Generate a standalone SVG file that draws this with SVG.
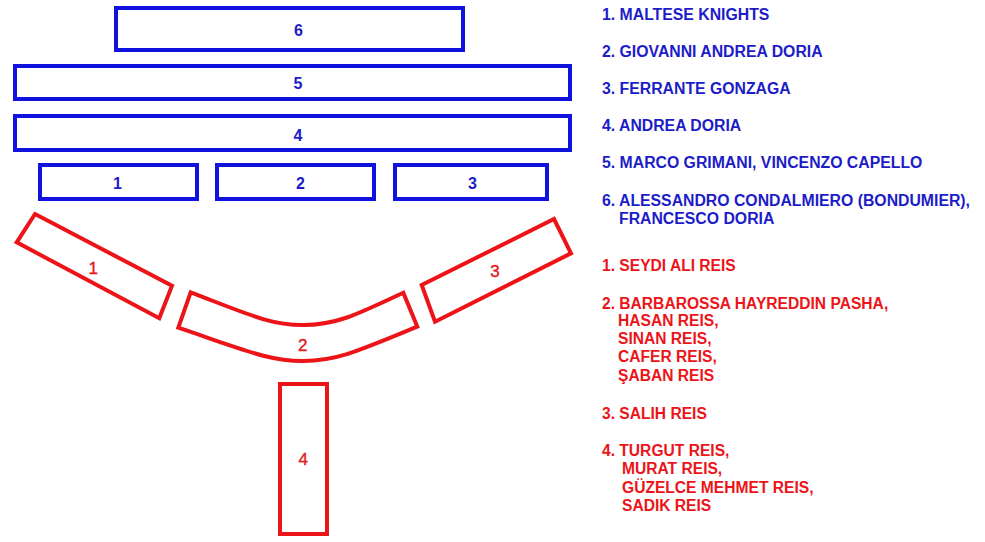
<svg xmlns="http://www.w3.org/2000/svg" width="985" height="542" viewBox="0 0 985 542">
<style>
.b{fill:none;stroke:#1212e0;stroke-width:4}
.r{fill:none;stroke:#ec1418;stroke-width:4;stroke-linejoin:miter}
.bn{font-family:"Liberation Sans",Arial,sans-serif;font-weight:bold;font-size:16px;fill:#1c1cc8;text-anchor:middle}
.rn{font-family:"Liberation Sans",Arial,sans-serif;font-size:17px;fill:#e41a1c;text-anchor:middle;stroke:#e41a1c;stroke-width:0.4}
.bl{font-family:"Liberation Sans",Arial,sans-serif;font-weight:bold;font-size:15.8px;fill:#1c1cc8}
.rl{font-family:"Liberation Sans",Arial,sans-serif;font-weight:bold;font-size:15.6px;fill:#ec1418}
</style>
<rect width="985" height="542" fill="#fff"/>
<g id="blue6"><rect class="b" x="116" y="8" width="347" height="42"/><text class="bn" x="298.5" y="35.8">6</text></g>
<g id="blue5"><rect class="b" x="15" y="66" width="555" height="33"/><text class="bn" x="298" y="89">5</text></g>
<g id="blue4"><rect class="b" x="15" y="116" width="555" height="34"/><text class="bn" x="298" y="141">4</text></g>
<g id="blue1"><rect class="b" x="40" y="165" width="157" height="34"/><text class="bn" x="117.5" y="188.5">1</text></g>
<g id="blue2"><rect class="b" x="217" y="165" width="157" height="34"/><text class="bn" x="300.5" y="188.5">2</text></g>
<g id="blue3"><rect class="b" x="395" y="165" width="152" height="34"/><text class="bn" x="472.5" y="188.5">3</text></g>
<g id="red1"><polygon class="r" points="35,214 172,285.7 159.3,318.3 16.7,242.3"/><text class="rn" x="93.3" y="273.5">1</text></g>
<g id="red2"><path class="r" d="M190.7,292.3 C250,315 270,325 303,325 C336,325 356,315 403.3,292.7 L417.3,326.7 C356,352 336,361 303,361 C270,361 250,352 178.3,327.7 Z"/><text class="rn" x="302.7" y="350.5">2</text></g>
<g id="red3"><polygon class="r" points="554,219 571,253.3 435,321.7 421.7,285"/><text class="rn" x="495" y="277">3</text></g>
<g id="red4"><rect class="r" x="280" y="384" width="47" height="150"/><text class="rn" x="303.3" y="464.5">4</text></g>
<g id="legend-blue">
<text class="bl" x="602" y="19.5">1. MALTESE KNIGHTS</text>
<text class="bl" x="602" y="57">2. GIOVANNI ANDREA DORIA</text>
<text class="bl" x="602" y="94">3. FERRANTE GONZAGA</text>
<text class="bl" x="602" y="130.5">4. ANDREA DORIA</text>
<text class="bl" x="602" y="167.5">5. MARCO GRIMANI, VINCENZO CAPELLO</text>
<text class="bl" x="602" y="205.5">6. ALESSANDRO CONDALMIERO (BONDUMIER),</text>
<text class="bl" x="619" y="223.5">FRANCESCO DORIA</text>
</g>
<g id="legend-red">
<text class="rl" x="602" y="271">1. SEYDI ALI REIS</text>
<text class="rl" x="602" y="308.5">2. BARBAROSSA HAYREDDIN PASHA,</text>
<text class="rl" x="618" y="326">HASAN REIS,</text>
<text class="rl" x="618" y="343.5">SINAN REIS,</text>
<text class="rl" x="618" y="362">CAFER REIS,</text>
<text class="rl" x="618" y="380.5">ŞABAN REIS</text>
<text class="rl" x="602" y="418.5">3. SALIH REIS</text>
<text class="rl" x="602" y="455.5">4. TURGUT REIS,</text>
<text class="rl" x="622" y="473.5">MURAT REIS,</text>
<text class="rl" x="622" y="492.5">GÜZELCE MEHMET REIS,</text>
<text class="rl" x="622" y="510.5">SADIK REIS</text>
</g>
</svg>
